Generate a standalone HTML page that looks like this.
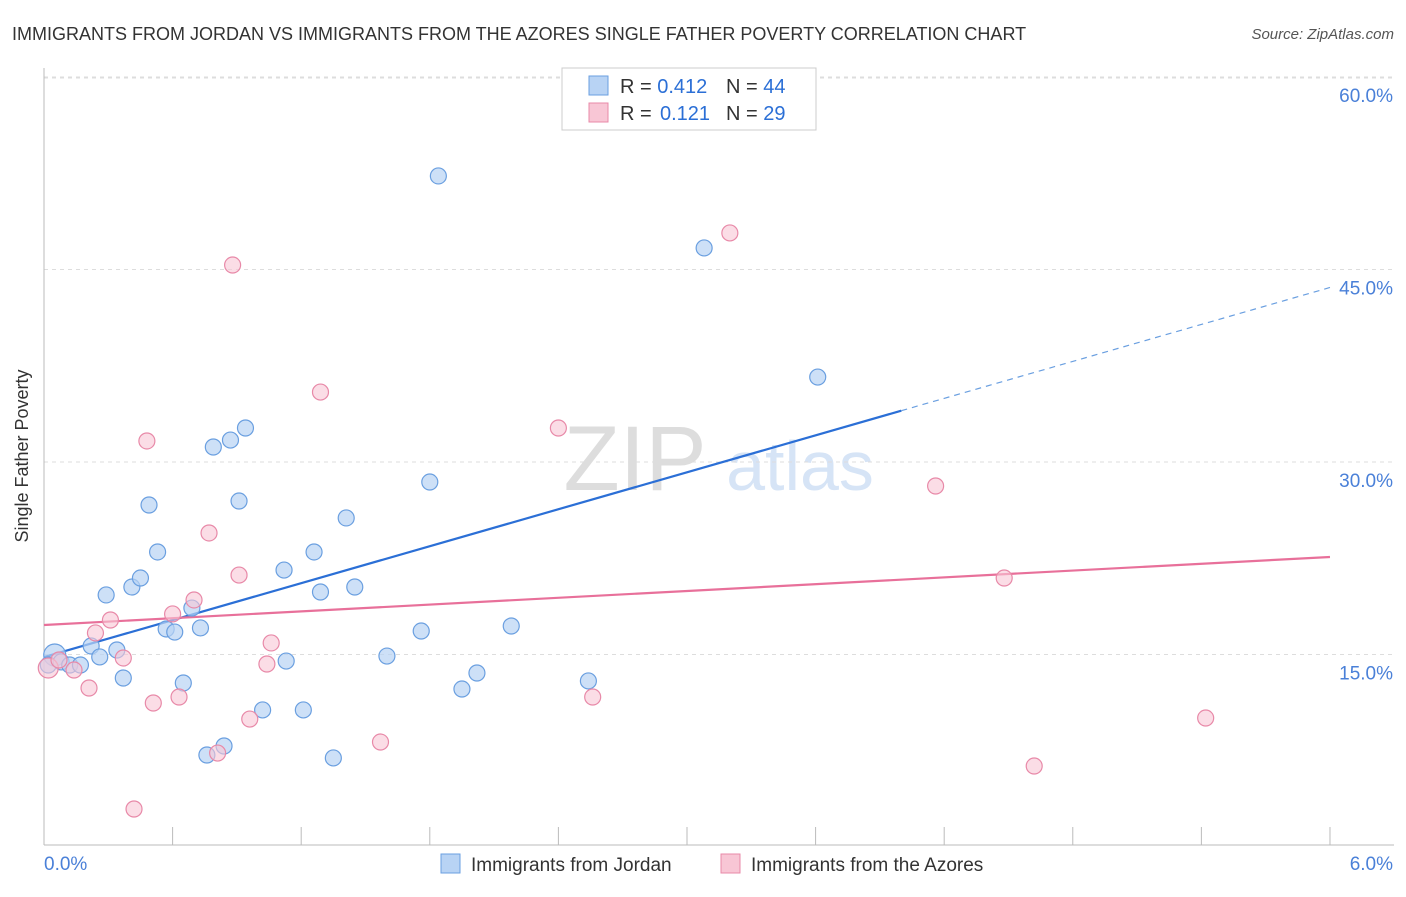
<!DOCTYPE html>
<html><head><meta charset="utf-8"><style>
body{margin:0;background:#fff;font-family:"Liberation Sans",sans-serif;}
svg text{font-family:"Liberation Sans",sans-serif;}
</style></head><body>
<svg id="c" width="1406" height="892" xmlns="http://www.w3.org/2000/svg">
<text x="12" y="40" font-size="18" fill="#333">IMMIGRANTS FROM JORDAN VS IMMIGRANTS FROM THE AZORES SINGLE FATHER POVERTY CORRELATION CHART</text>
<text x="1394" y="39" font-size="15" fill="#555" text-anchor="end" font-style="italic">Source: ZipAtlas.com</text>
<text x="28" y="456" font-size="18" fill="#333" text-anchor="middle" transform="rotate(-90 28 456)">Single Father Poverty</text>
<g><text x="635" y="490" font-size="92" fill="#ddd" text-anchor="middle" font-family="Liberation Serif">ZIP</text><text x="800" y="490" font-size="70" fill="#d6e4f6" text-anchor="middle">atlas</text></g>
<g id="grid"></g><g id="axes"></g><g id="lines"></g><g id="pts"></g>
<g>
<rect x="562" y="68" width="254" height="62" fill="#fff" stroke="#ccc"/>
<rect x="589" y="76" width="19" height="19" fill="#b8d3f4" stroke="#6a9fe0"/>
<rect x="589" y="103" width="19" height="19" fill="#f8c6d5" stroke="#e889a8"/>
<text x="620" y="93" font-size="20" fill="#333">R = <tspan fill="#2b6fd6">0.412</tspan></text>
<text x="726" y="93" font-size="20" fill="#333">N = <tspan fill="#2b6fd6">44</tspan></text>
<text x="620" y="120" font-size="20" fill="#333">R = <tspan x="660" fill="#2b6fd6">0.121</tspan></text>
<text x="726" y="120" font-size="20" fill="#333">N = <tspan fill="#2b6fd6">29</tspan></text>
</g>
<g>
<rect x="441" y="854" width="19" height="19" fill="#b8d3f4" stroke="#6a9fe0"/>
<text x="471" y="871" font-size="19" fill="#333">Immigrants from Jordan</text>
<rect x="721" y="854" width="19" height="19" fill="#f8c6d5" stroke="#e889a8"/>
<text x="751" y="871" font-size="19" fill="#333">Immigrants from the Azores</text>
</g>
</svg>
<script>
const yTicks=[15,30,45,60];
const yTickLabels=["15.0%","30.0%","45.0%","60.0%"];
const xTickCount=[0,0.6,1.2,1.8,2.4,3.0,3.6,4.2,4.8,5.4,6.0];
const jordanX=[.05,.02,.08,.12,.17,.22,.26,.29,.34,.37,.41,.45,.49,.53,.57,.61,.65,.69,.73,.76,.79,.84,.87,.91,.94,1.02,1.12,1.13,1.21,1.26,1.29,1.35,1.41,1.45,1.60,1.76,1.80,1.84,1.95,2.02,2.18,2.54,3.08,3.61];
const jordanY=[14.96,14.18,14.42,14.18,14.18,15.66,14.81,19.64,15.35,13.17,20.26,20.96,26.65,22.99,16.99,16.75,12.78,18.62,17.07,7.17,31.17,7.87,31.71,26.96,32.65,10.68,21.58,14.49,10.68,22.99,19.87,6.94,25.64,20.26,14.88,16.83,28.44,52.29,12.31,13.56,17.22,12.94,46.68,36.62];
const azoresX=[.02,.07,.14,.21,.24,.31,.37,.42,.48,.51,.60,.63,.70,.77,.81,.88,.91,.96,1.04,1.06,1.29,1.57,2.40,2.56,3.20,4.16,4.48,4.62,5.42];
const azoresY=[13.95,14.57,13.79,12.39,16.68,17.69,14.73,2.96,31.64,11.22,18.16,11.69,19.25,24.47,7.32,45.35,21.19,9.97,14.26,15.90,35.45,8.18,32.65,11.69,47.85,28.13,20.96,6.31,10.05];
const jordanTrend=[14.8,43.6]; const azoresTrend=[17.3,22.6];
const X=v=>44+v*214.33, Y=v=>847-v*12.833;
const NS="http://www.w3.org/2000/svg";
function mk(p,t,a){const e=document.createElementNS(NS,t);for(const k in a)e.setAttribute(k,a[k]);document.getElementById(p).appendChild(e);return e;}
yTicks.forEach((t,i)=>{
 const l=mk('grid','line',{x1:44,x2:1394,y1:Y(t),y2:Y(t),stroke:'#ddd','stroke-dasharray':'4 4'});
 
 
 const tx=mk('grid','text',{x:1393,y:Y(t)+25,'font-size':19,fill:'#4a80d8','text-anchor':'end'});tx.textContent=yTickLabels[i];
 
 
});
const topGrid=mk('grid','line',{x1:44,x2:1394,y1:78,y2:78,stroke:'#ddd','stroke-dasharray':'4 4'});


mk('axes','line',{x1:44,x2:44,y1:68,y2:845,stroke:'#bbb'});
mk('axes','line',{x1:44,x2:1394,y1:845,y2:845,stroke:'#bbb'});
xTickCount.forEach(t=>{const l=mk('axes','line',{x1:X(t),x2:X(t),y1:827,y2:845,stroke:'#bbb'});
 
 });
let a=mk('axes','text',{x:44,y:870,'font-size':19,fill:'#4a80d8'});a.textContent='0.0%';
a=mk('axes','text',{x:1393,y:870,'font-size':19,fill:'#4a80d8','text-anchor':'end'});a.textContent='6.0%';
const xs=4.0;const ym=jordanTrend[0]+(jordanTrend[1]-jordanTrend[0])*xs/6;
let ln=mk('lines','line',{x1:X(0),y1:Y(jordanTrend[0]),x2:X(xs),y2:Y(ym),stroke:'#2b6fd6','stroke-width':2.2});


ln=mk('lines','line',{x1:X(xs),y1:Y(ym),x2:X(6),y2:Y(jordanTrend[1]),stroke:'#6a9fe0','stroke-width':1.2,'stroke-dasharray':'6 5'});


ln=mk('lines','line',{x1:X(0),y1:Y(azoresTrend[0]),x2:X(6),y2:Y(azoresTrend[1]),stroke:'#e8709a','stroke-width':2.2});


jordanX.forEach((v,i)=>{const c=mk('pts','circle',{cx:X(v),cy:Y(jordanY[i]),r:i==0?11:8,fill:'#b8d3f4','fill-opacity':0.7,stroke:'#6a9fe0','stroke-width':1.2});
 
 });
azoresX.forEach((v,i)=>{const c=mk('pts','circle',{cx:X(v),cy:Y(azoresY[i]),r:i==0?10:8,fill:'#f8c6d5','fill-opacity':0.6,stroke:'#e889a8','stroke-width':1.2});
 
 });
</script>
</body></html>
